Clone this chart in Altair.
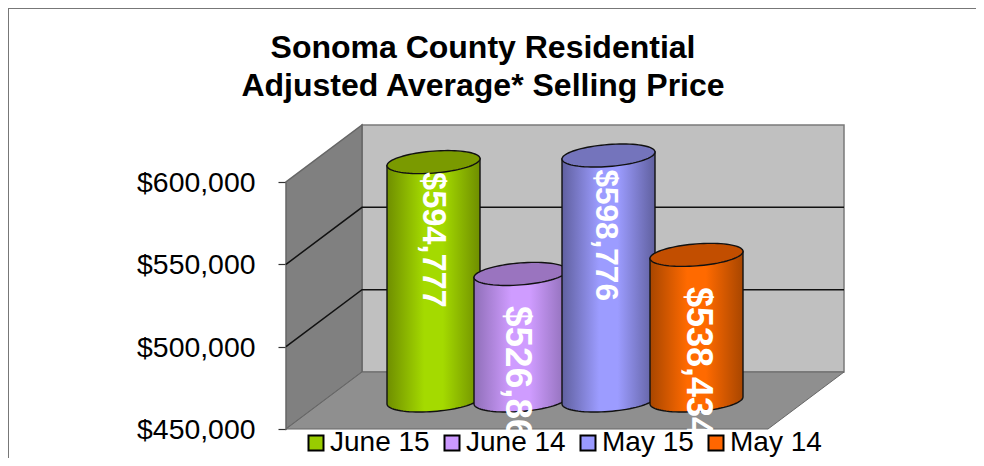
import math
import altair as alt
import pandas as pd

# ---- data ----
periods = ["June 15", "June 14", "May 15", "May 14"]
prices = [594777, 526867, 598776, 538434]
labels = ["$594,777", "$526,867", "$598,776", "$538,434"]
axis_ticks = [450000, 500000, 550000, 600000]
title_lines = ["Sonoma County Residential", "Adjusted Average* Selling Price"]

# ---- styles ----
FONT = "Liberation Sans"
legend_colors = ["#99CC00", "#CC99FF", "#9999FF", "#FF6600"]
top_colors = ["#7A9A00", "#9A74BF", "#7474BC", "#C24E00"]
edge_colors = ["#6F8E00", "#8F6FB8", "#60609F", "#A84600"]
mid_colors = ["#A4DA00", "#CF9CFF", "#9C9CFF", "#FF6A00"]

# ---- scene layout: a 3D box projected on the plot plane ----
PLOT_W, PLOT_H = 558, 304
PX_PER_DOLLAR = 1.6467 / 1000
DEPTH_X = 76                      # horizontal shift of the back wall
DEPTH_PRICE = 57 / PX_PER_DOLLAR  # vertical shift of the back wall, in dollars
BASE = 450000
TOP = 600000
FLOOR_W = 482
bar_left = [101, 188, 276, 364]
BAR_W = 93
BAR_DEPTH = 0.5
label_x = [147, 231, 319, 412]
label_drop = [10, 32, 14, 32]
label_size = [32.5, 37, 31.5, 36]


def px(n):
    return n / PX_PER_DOLLAR


x_scale = alt.Scale(domain=[0, PLOT_W], nice=False, zero=False)
y_scale = alt.Scale(domain=[BASE, TOP + DEPTH_PRICE], nice=False, zero=False)
y_axis = alt.Axis(
    values=axis_ticks, format="$,.0f", domain=False, grid=False, ticks=True, tickSize=8,
    tickColor="#333333", tickWidth=1.2, labelPadding=23, labelFontSize=28.4, labelFont=FONT,
    labelColor="black", labelOverlap=False, labelOffset=0.5, title=None)
X = lambda f="x": alt.X(f"{f}:Q", scale=x_scale, axis=None)
Y = lambda f="y": alt.Y(f"{f}:Q", scale=y_scale, axis=y_axis)

# back wall
back = pd.DataFrame({"x": [DEPTH_X], "x2": [DEPTH_X + FLOOR_W],
                     "y": [BASE + DEPTH_PRICE], "y2": [TOP + DEPTH_PRICE]})
back_wall = alt.Chart(back).mark_rect(fill="#C0C0C0", stroke="#7A7A7A", strokeWidth=1.5).encode(
    x=X(), x2="x2:Q", y=Y(), y2="y2:Q")

# left wall
left = pd.DataFrame({"x": [0, DEPTH_X], "y": [BASE, BASE + DEPTH_PRICE],
                     "y2": [TOP, TOP + DEPTH_PRICE]})
left_wall = alt.Chart(left).mark_area(fill="#808080", stroke="#666666", strokeWidth=1.5).encode(
    x=X(), y=Y(), y2="y2:Q")

# floor
floor = pd.DataFrame({"y": [BASE, BASE + DEPTH_PRICE], "x": [0, DEPTH_X],
                      "x2": [FLOOR_W, FLOOR_W + DEPTH_X]})
floor_mark = alt.Chart(floor).mark_area(orient="horizontal", fill="#8F8F8F", stroke="#666666",
                                        strokeWidth=1).encode(
    y=Y(), x=X(), x2="x2:Q")

# gridlines
grid_rows = []
for p in axis_ticks[1:3]:
    grid_rows += [{"p": p, "x": 0, "y": p},
                  {"p": p, "x": DEPTH_X, "y": p + DEPTH_PRICE},
                  {"p": p, "x": DEPTH_X + FLOOR_W, "y": p + DEPTH_PRICE}]
grid = alt.Chart(pd.DataFrame(grid_rows)).mark_line(color="#111111", strokeWidth=1.5).encode(
    x=X(), y=Y(), detail="p:N")

layers = [back_wall, left_wall, floor_mark, grid]

# cylinders
A = BAR_W / 2
B = 11.0
SHEAR = -3.5 / A
ts = [math.pi * i / 40 for i in range(41)]
FLOOR_PRICE = BASE + BAR_DEPTH * DEPTH_PRICE

for i, price in enumerate(prices):
    cx = bar_left[i] + A
    top_p = price + BAR_DEPTH * DEPTH_PRICE
    body_rows, cap_rows = [], []
    for t in ts:
        c, s = math.cos(math.pi - t), math.sin(t)
        sx = cx + A * c
        tilt = px(-SHEAR * A * c)
        body_rows.append({"x": sx, "y": top_p + tilt, "y2": FLOOR_PRICE + tilt - px(B * s)})
        cap_rows.append({"x": sx, "y": top_p + tilt + px(B * s), "y2": top_p + tilt - px(B * s)})
    grad = alt.LinearGradient(
        gradient="linear", x1=0, x2=1, y1=0, y2=0,
        stops=[alt.GradientStop(color=edge_colors[i], offset=0),
               alt.GradientStop(color=mid_colors[i], offset=0.4),
               alt.GradientStop(color=mid_colors[i], offset=0.6),
               alt.GradientStop(color=edge_colors[i], offset=1)])
    body = alt.Chart(pd.DataFrame(body_rows)).mark_area(
        fill=grad, stroke="#111111", strokeWidth=1.4).encode(x=X(), y=Y(), y2="y2:Q")
    cap = alt.Chart(pd.DataFrame(cap_rows)).mark_area(
        fill=top_colors[i], stroke="#111111", strokeWidth=1.4).encode(x=X(), y=Y(), y2="y2:Q")
    layers += [body, cap]

# value labels
lab = pd.DataFrame({
    "x": label_x,
    "y": [p + BAR_DEPTH * DEPTH_PRICE - px(d) for p, d in zip(prices, label_drop)],
    "t": labels,
    "s": label_size})
value_labels = alt.Chart(lab).mark_text(
    angle=90, align="left", baseline="middle", font=FONT, fontWeight="bold",
    color="white").encode(x=X(), y=Y(), text="t:N",
                          size=alt.Size("s:Q", scale=None, legend=None))
layers.append(value_labels)

# legend
leg = pd.DataFrame({"period": periods, "x": [0] * 4, "y": [BASE] * 4})
legend_layer = alt.Chart(leg).mark_square(size=0, opacity=1).encode(
    x=X(), y=Y(),
    color=alt.Color("period:N",
                    scale=alt.Scale(domain=periods, range=legend_colors),
                    sort=periods,
                    legend=alt.Legend(
                        orient="none", legendX=16, legendY=304, direction="horizontal", columns=4,
                        title=None, padding=0, columnPadding=8, labelOffset=0,
                        symbolType="square", symbolSize=225, symbolStrokeColor="black",
                        symbolStrokeWidth=2, symbolOpacity=1, labelFont=FONT, labelFontSize=28,
                        labelColor="black", labelLimit=200)))
layers.append(legend_layer)

# outer frame
frame_top = alt.Chart(pd.DataFrame({"a": [0]})).mark_rule(color="#777777", strokeWidth=2).encode(
    x=alt.value(-278), x2=alt.value(698), y=alt.value(-117))
frame_left = alt.Chart(pd.DataFrame({"a": [0]})).mark_rule(color="#777777", strokeWidth=2).encode(
    x=alt.value(-278), y=alt.value(-117), y2=alt.value(333))
layers += [frame_top, frame_left]

chart = alt.layer(*layers).properties(
    width=PLOT_W,
    height=PLOT_H,
    background="white",
    padding={"left": 278, "top": 117, "right": 132, "bottom": 29},
    autosize=alt.AutoSizeParams(type="none"),
    title=alt.TitleParams(text=title_lines, font=FONT, fontSize=32, fontWeight="bold",
                          color="black", anchor="middle", dx=-82, dy=122, offset=26, lineHeight=38),
).configure_view(stroke=None)

chart.save("out.html", embed_options={"renderer": "svg", "actions": False})
